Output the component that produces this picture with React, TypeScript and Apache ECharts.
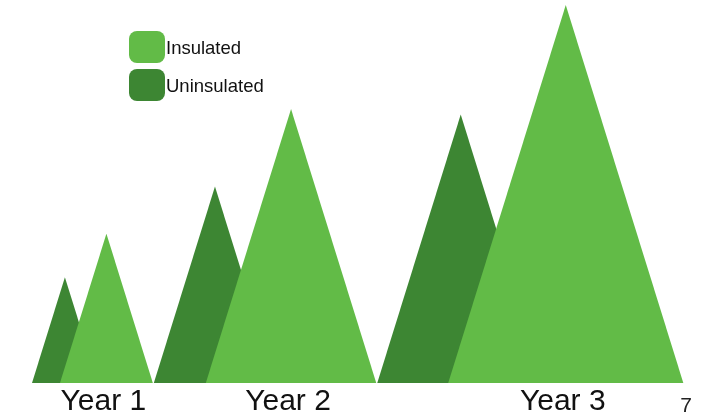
import React, { useEffect, useRef } from "react";
import * as echarts from "echarts";

const categories = ["Year 1", "Year 2", "Year 3"];
const uninsulated = [28, 52, 71];
const insulated = [39.5, 72.5, 100];
const pageNumber = "7";

const LIGHT = "#62BB47";
const DARK = "#3D8633";
const FONT = "'Liberation Sans', Arial, Helvetica, sans-serif";
const RATIO = 0.622; // base width / height of each triangle (pixels)
const OVERLAP = 0.425; // insulated triangle starts at this fraction of the uninsulated base
const GAP = 1;

function layout(api: any) {
  const origin = api.coord([0, 0]);
  let left = origin[0];
  const out: any[] = [];
  for (let i = 0; i < categories.length; i++) {
    const hU = api.size([0, uninsulated[i]])[1];
    const hI = api.size([0, insulated[i]])[1];
    const wU = hU * RATIO;
    const wI = hI * RATIO;
    const iL = left + wU * OVERLAP;
    out.push({ uL: left, wU, hU, iL, wI, hI, base: origin[1] });
    left = iL + wI + GAP;
  }
  return out;
}

export default function App() {
  const ref = useRef<HTMLDivElement>(null);
  useEffect(() => {
    if (!ref.current) return;
    const chart = echarts.init(ref.current, undefined, { renderer: "svg" });
    chart.setOption({
      animation: false,
      grid: { left: 32, right: 23, top: 5, bottom: 34 },
      xAxis: { type: "value", min: 0, max: 1, show: false },
      yAxis: { type: "value", min: 0, max: 100, show: false },
      legend: {
        data: ["Insulated", "Uninsulated"],
        orient: "vertical",
        left: 124,
        top: 26,
        icon: "roundRect",
        itemWidth: 36,
        itemHeight: 32,
        itemGap: 6,
        selectedMode: false,
        textStyle: {
          fontFamily: FONT,
          fontSize: 18.5,
          color: "#111",
          padding: [0, 0, 4, -4],
        },
      },
      graphic: [
        {
          type: "text",
          right: 15,
          top: 394,
          style: { text: pageNumber, font: `21px ${FONT}`, fill: "#222" },
        },
      ],
      series: [
        {
          name: "Uninsulated",
          type: "custom",
          itemStyle: { color: DARK },
          data: uninsulated.map((v, i) => [i, v]),
          renderItem: (params: any, api: any) => {
            const L = layout(api)[params.dataIndex];
            return {
              type: "polygon",
              shape: {
                points: [
                  [L.uL, L.base],
                  [L.uL + L.wU / 2, L.base - L.hU],
                  [L.uL + L.wU, L.base],
                ],
              },
              style: { fill: DARK },
            };
          },
        },
        {
          name: "Insulated",
          type: "custom",
          itemStyle: { color: LIGHT },
          data: insulated.map((v, i) => [i, v]),
          renderItem: (params: any, api: any) => {
            const L = layout(api)[params.dataIndex];
            const cx = L.iL + L.wI / 2;
            return {
              type: "group",
              children: [
                {
                  type: "polygon",
                  shape: {
                    points: [
                      [L.iL, L.base],
                      [cx, L.base - L.hI],
                      [L.iL + L.wI, L.base],
                    ],
                  },
                  style: { fill: LIGHT },
                },
                {
                  type: "text",
                  x: cx - 3,
                  y: L.base + 16,
                  style: {
                    text: categories[params.dataIndex],
                    font: `30px ${FONT}`,
                    fill: "#111",
                    align: "center",
                    verticalAlign: "middle",
                    textAlign: "center",
                    textVerticalAlign: "middle",
                  },
                },
              ],
            };
          },
        },
      ],
    });
    return () => chart.dispose();
  }, []);
  return (
    <div
      ref={ref}
      style={{ position: "fixed", left: 0, top: 0, width: 707, height: 417 }}
    />
  );
}
